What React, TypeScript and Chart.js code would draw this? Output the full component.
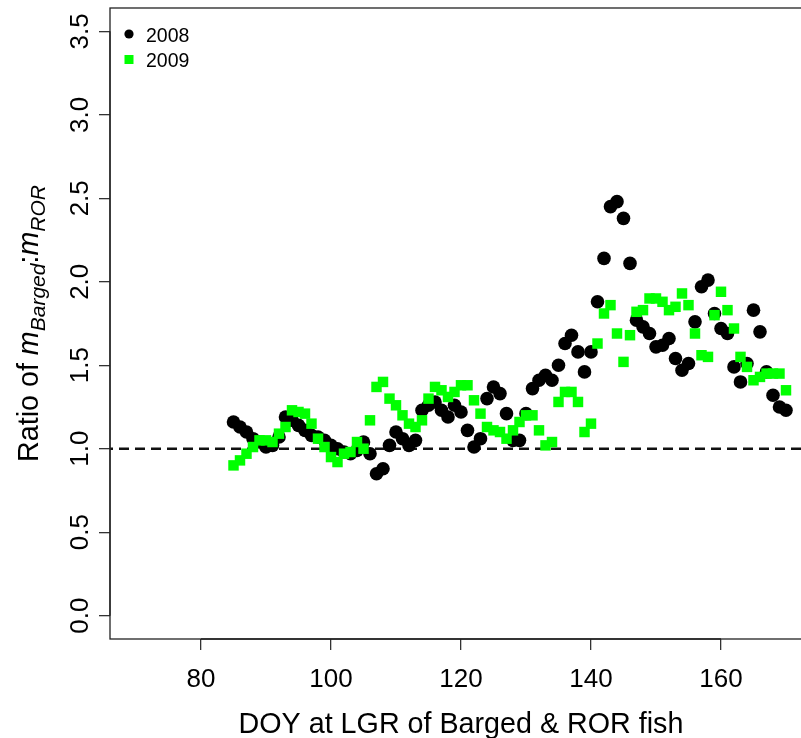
import React, { useEffect, useRef } from "react";
import { Chart, registerables } from "chart.js";

Chart.register(...registerables);

// ---- data ----
const days = [
  85, 86, 87, 88, 89, 90, 91, 92, 93, 94, 95, 96, 97, 98, 99, 100, 101, 102, 103, 104,
  105, 106, 107, 108, 109, 110, 111, 112, 113, 114, 115, 116, 117, 118, 119, 120, 121,
  122, 123, 124, 125, 126, 127, 128, 129, 130, 131, 132, 133, 134, 135, 136, 137, 138,
  139, 140, 141, 142, 143, 144, 145, 146, 147, 148, 149, 150, 151, 152, 153, 154, 155,
  156, 157, 158, 159, 160, 161, 162, 163, 164, 165, 166, 167, 168, 169, 170,
];

const ratio2008 = [
  1.16, 1.13, 1.1, 1.06, 1.04, 1.01, 1.02, 1.07, 1.19, 1.17, 1.14, 1.11, 1.08, 1.07, 1.05,
  1.02, 1.0, 0.98, 0.97, 0.99, 1.04, 0.97, 0.85, 0.88, 1.02, 1.1, 1.06, 1.02, 1.05, 1.23,
  1.26, 1.28, 1.23, 1.19, 1.26, 1.22, 1.11, 1.01, 1.06, 1.3, 1.37, 1.33, 1.21, 1.05, 1.05,
  1.21, 1.36, 1.41, 1.44, 1.41, 1.5, 1.63, 1.68, 1.58, 1.46, 1.58, 1.88, 2.14, 2.45, 2.48,
  2.38, 2.11, 1.77, 1.73, 1.69, 1.61, 1.62, 1.66, 1.54, 1.47, 1.51, 1.76, 1.97, 2.01, 1.81,
  1.72, 1.69, 1.49, 1.4, 1.51, 1.83, 1.7, 1.46, 1.32, 1.25, 1.23,
];

const ratio2009 = [
  0.9, 0.93, 0.97, 1.01, 1.05, 1.05, 1.04, 1.09, 1.13, 1.23, 1.22, 1.21, 1.15, 1.06, 1.01,
  0.95, 0.92, 0.97, 0.98, 1.04, 1.0, 1.17, 1.37, 1.4, 1.3, 1.26, 1.2, 1.15, 1.13, 1.17,
  1.3, 1.37, 1.35, 1.31, 1.34, 1.38, 1.38, 1.29, 1.21, 1.13, 1.11, 1.1, 1.06, 1.11, 1.16,
  1.2, 1.2, 1.11, 1.02, 1.04, 1.28, 1.34, 1.34, 1.28, 1.1, 1.15, 1.63, 1.81, 1.86, 1.69,
  1.52, 1.68, 1.82, 1.83, 1.9, 1.9, 1.88, 1.83, 1.85, 1.93, 1.86, 1.69, 1.56, 1.55, 1.8,
  1.94, 1.83, 1.72, 1.55, 1.49, 1.41, 1.43, 1.45, 1.45, 1.45, 1.35,
];

const referenceLevel = 1.0;
const seriesNames = ["2008", "2009"];
const xTicks = [80, 100, 120, 140, 160];
const xTickLabels = ["80", "100", "120", "140", "160"];
const yTicks = [0, 0.5, 1, 1.5, 2, 2.5, 3, 3.5];
const yTickLabels = ["0.0", "0.5", "1.0", "1.5", "2.0", "2.5", "3.0", "3.5"];
const xTitle = "DOY at LGR of Barged & ROR fish";
const yTitleParts = [
  { t: "Ratio of ", italic: false, sub: false },
  { t: "m", italic: true, sub: false },
  { t: "Barged", italic: true, sub: true },
  { t: ":", italic: false, sub: false },
  { t: "m", italic: true, sub: false },
  { t: "ROR", italic: true, sub: true },
];

const FONT = '"Liberation Sans", Arial, Helvetica, sans-serif';
const GREEN = "#00ff00";

const decorPlugin = {
  id: "rDecor",
  afterDraw(chart: any) {
    const { ctx, chartArea, scales } = chart;
    const { left, right, top, bottom } = chartArea;
    const xs = scales.x;
    const ys = scales.y;
    ctx.save();
    // box
    ctx.strokeStyle = "#222";
    ctx.lineWidth = 1.3;
    ctx.strokeRect(left, top, right - left, bottom - top);
    // axis lines
    ctx.beginPath();
    ctx.moveTo(xs.getPixelForValue(xTicks[0]), bottom);
    ctx.lineTo(xs.getPixelForValue(xTicks[xTicks.length - 1]), bottom);
    ctx.moveTo(left, ys.getPixelForValue(yTicks[0]));
    ctx.lineTo(left, ys.getPixelForValue(yTicks[yTicks.length - 1]));
    ctx.stroke();

    ctx.fillStyle = "#000";
    // x tick labels
    ctx.font = `26px ${FONT}`;
    ctx.textAlign = "center";
    ctx.textBaseline = "alphabetic";
    xTicks.forEach((v, i) => {
      ctx.fillText(xTickLabels[i], xs.getPixelForValue(v), 687);
    });
    // y tick labels (rotated)
    yTicks.forEach((v, i) => {
      ctx.save();
      ctx.translate(88, ys.getPixelForValue(v));
      ctx.rotate(-Math.PI / 2);
      ctx.fillText(yTickLabels[i], 0, 0);
      ctx.restore();
    });
    // x title
    ctx.font = `28.7px ${FONT}`;
    ctx.fillText(xTitle, (left + right) / 2, 733);

    // y title
    const mainSize = 28.7;
    const subSize = 21;
    const fontFor = (p: any) =>
      `${p.italic ? "italic " : ""}${p.sub ? subSize : mainSize}px ${FONT}`;
    let total = 0;
    const widths = yTitleParts.map((p) => {
      ctx.font = fontFor(p);
      const w = ctx.measureText(p.t).width;
      total += w;
      return w;
    });
    ctx.save();
    ctx.translate(38, (top + bottom) / 2);
    ctx.rotate(-Math.PI / 2);
    ctx.textAlign = "left";
    let cx = -total / 2;
    yTitleParts.forEach((p, i) => {
      ctx.font = fontFor(p);
      ctx.fillText(p.t, cx, p.sub ? 7 : 0);
      cx += widths[i];
    });
    ctx.restore();

    // legend
    ctx.font = `19.5px ${FONT}`;
    ctx.textAlign = "left";
    ctx.fillStyle = "#000";
    ctx.beginPath();
    ctx.arc(129, 34, 4.6, 0, Math.PI * 2);
    ctx.fill();
    ctx.fillText(seriesNames[0], 146, 42);
    ctx.fillStyle = GREEN;
    ctx.fillRect(124.5, 55, 9, 9);
    ctx.fillStyle = "#000";
    ctx.fillText(seriesNames[1], 146, 67);
    ctx.restore();
  },
};

export default function App() {
  const ref = useRef<HTMLCanvasElement | null>(null);

  useEffect(() => {
    document.body.style.margin = "0";
    const canvas = ref.current;
    if (!canvas) return;
    const chart = new Chart(canvas, {
      type: "scatter",
      data: {
        datasets: [
          {
            label: seriesNames[1],
            data: days.map((d, i) => ({ x: d, y: ratio2009[i] })),
            pointStyle: "rect",
            pointRadius: 7.4,
            backgroundColor: GREEN,
            borderWidth: 0,
            order: 1,
          },
          {
            label: seriesNames[0],
            data: days.map((d, i) => ({ x: d, y: ratio2008[i] })),
            pointStyle: "circle",
            pointRadius: 6.8,
            backgroundColor: "#000",
            borderWidth: 0,
            order: 2,
          },
          {
            type: "line",
            label: "ref",
            data: [
              { x: 60, y: referenceLevel },
              { x: 180, y: referenceLevel },
            ],
            borderColor: "#111",
            borderWidth: 2.4,
            borderDash: [10, 6],
            pointRadius: 0,
            order: 3,
          } as any,
        ],
      },
      options: {
        responsive: false,
        animation: false,
        devicePixelRatio: 1,
        layout: { padding: { top: 8, right: 18, bottom: 0, left: 0 } },
        plugins: { legend: { display: false }, tooltip: { enabled: false } },
        scales: {
          x: {
            type: "linear",
            min: 66,
            max: 174,
            afterBuildTicks: (s: any) => {
              s.ticks = xTicks.map((v) => ({ value: v }));
            },
            afterFit: (s: any) => {
              s.height = 99;
            },
            grid: {
              drawOnChartArea: false,
              drawTicks: true,
              tickLength: 11,
              color: "#333",
              lineWidth: 1.3,
            },
            border: { display: false },
            ticks: { display: false },
          },
          y: {
            type: "linear",
            min: -0.14,
            max: 3.64,
            afterBuildTicks: (s: any) => {
              s.ticks = yTicks.map((v) => ({ value: v }));
            },
            afterFit: (s: any) => {
              s.width = 110;
            },
            grid: {
              drawOnChartArea: false,
              drawTicks: true,
              tickLength: 11,
              color: "#333",
              lineWidth: 1.3,
            },
            border: { display: false },
            ticks: { display: false },
          },
        },
      } as any,
      plugins: [decorPlugin],
    });
    return () => chart.destroy();
  }, []);

  return (
    <div style={{ width: 801, height: 738, overflow: "hidden", position: "relative", background: "#fff" }}>
      <canvas ref={ref} width={830} height={738} style={{ width: 830, height: 738, display: "block" }} />
    </div>
  );
}
